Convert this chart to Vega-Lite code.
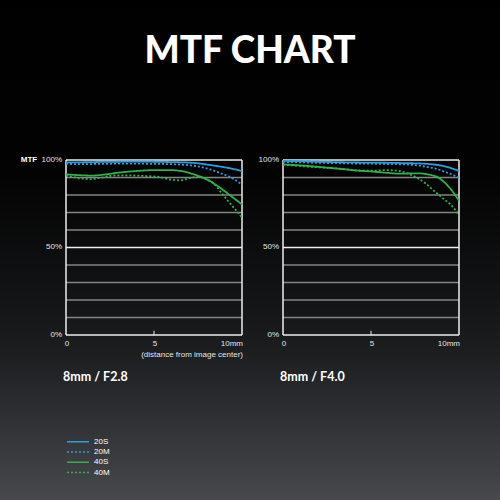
{
  "$schema": "https://vega.github.io/schema/vega-lite/v6.json",
  "width": 500,
  "height": 500,
  "autosize": "none",
  "padding": 0,
  "background": "#000000",
  "config": {
    "font": "Liberation Sans",
    "axis": {"disable": true},
    "view": {
      "stroke": null,
      "fill": {
        "gradient": "linear",
        "x1": 0, "y1": 0, "x2": 0, "y2": 1,
        "stops": [
          {"offset": 0, "color": "#000000"},
          {"offset": 0.35, "color": "#030303"},
          {"offset": 0.6, "color": "#131416"},
          {"offset": 0.7, "color": "#1b1d1f"},
          {"offset": 0.85, "color": "#303235"},
          {"offset": 1, "color": "#47494c"}
        ]
      }
    },
    "text": {"font": "Liberation Sans", "fontSize": 8, "color": "#e6e6e6"},
    "legend": {
      "orient": "none",
      "legendX": 66,
      "legendY": 436.7,
      "title": null,
      "symbolType": "stroke",
      "symbolSize": 484,
      "symbolStrokeWidth": 1.5,
      "labelFontSize": 8,
      "labelColor": "#ffffff",
      "labelOffset": 4,
      "clipHeight": 10,
      "rowPadding": 0.3
    }
  },
  "datasets": {
    "curves": [
      {"lens": "F2.8", "series": "20S", "x": 0, "mtf": 98.6},
      {"lens": "F2.8", "series": "20S", "x": 1, "mtf": 98.7},
      {"lens": "F2.8", "series": "20S", "x": 2, "mtf": 98.9},
      {"lens": "F2.8", "series": "20S", "x": 3, "mtf": 99.0},
      {"lens": "F2.8", "series": "20S", "x": 4, "mtf": 99.1},
      {"lens": "F2.8", "series": "20S", "x": 5, "mtf": 99.0},
      {"lens": "F2.8", "series": "20S", "x": 6, "mtf": 98.8},
      {"lens": "F2.8", "series": "20S", "x": 7, "mtf": 98.5},
      {"lens": "F2.8", "series": "20S", "x": 7.6, "mtf": 98.0},
      {"lens": "F2.8", "series": "20S", "x": 8.2, "mtf": 97.1},
      {"lens": "F2.8", "series": "20S", "x": 8.8, "mtf": 96.2},
      {"lens": "F2.8", "series": "20S", "x": 9.4, "mtf": 95.1},
      {"lens": "F2.8", "series": "20S", "x": 10, "mtf": 93.6},

      {"lens": "F2.8", "series": "20M", "x": 0, "mtf": 97.8},
      {"lens": "F2.8", "series": "20M", "x": 1, "mtf": 97.6},
      {"lens": "F2.8", "series": "20M", "x": 2, "mtf": 97.8},
      {"lens": "F2.8", "series": "20M", "x": 3, "mtf": 97.9},
      {"lens": "F2.8", "series": "20M", "x": 4, "mtf": 97.9},
      {"lens": "F2.8", "series": "20M", "x": 5, "mtf": 97.8},
      {"lens": "F2.8", "series": "20M", "x": 6, "mtf": 97.6},
      {"lens": "F2.8", "series": "20M", "x": 7, "mtf": 97.0},
      {"lens": "F2.8", "series": "20M", "x": 7.6, "mtf": 96.2},
      {"lens": "F2.8", "series": "20M", "x": 8.2, "mtf": 94.6},
      {"lens": "F2.8", "series": "20M", "x": 8.8, "mtf": 92.4},
      {"lens": "F2.8", "series": "20M", "x": 9.2, "mtf": 90.8},
      {"lens": "F2.8", "series": "20M", "x": 9.6, "mtf": 88.7},
      {"lens": "F2.8", "series": "20M", "x": 10, "mtf": 85.9},

      {"lens": "F2.8", "series": "40S", "x": 0, "mtf": 91.8},
      {"lens": "F2.8", "series": "40S", "x": 0.8, "mtf": 91.3},
      {"lens": "F2.8", "series": "40S", "x": 1.5, "mtf": 91.1},
      {"lens": "F2.8", "series": "40S", "x": 2.2, "mtf": 91.7},
      {"lens": "F2.8", "series": "40S", "x": 3, "mtf": 92.8},
      {"lens": "F2.8", "series": "40S", "x": 4, "mtf": 93.7},
      {"lens": "F2.8", "series": "40S", "x": 5, "mtf": 94.2},
      {"lens": "F2.8", "series": "40S", "x": 6, "mtf": 94.2},
      {"lens": "F2.8", "series": "40S", "x": 6.6, "mtf": 93.6},
      {"lens": "F2.8", "series": "40S", "x": 7.2, "mtf": 92.0},
      {"lens": "F2.8", "series": "40S", "x": 7.8, "mtf": 89.8},
      {"lens": "F2.8", "series": "40S", "x": 8.3, "mtf": 87.2},
      {"lens": "F2.8", "series": "40S", "x": 8.8, "mtf": 83.8},
      {"lens": "F2.8", "series": "40S", "x": 9.3, "mtf": 80.0},
      {"lens": "F2.8", "series": "40S", "x": 10, "mtf": 74.6},

      {"lens": "F2.8", "series": "40M", "x": 0, "mtf": 91.2},
      {"lens": "F2.8", "series": "40M", "x": 0.5, "mtf": 90.0},
      {"lens": "F2.8", "series": "40M", "x": 1, "mtf": 89.3},
      {"lens": "F2.8", "series": "40M", "x": 1.4, "mtf": 89.1},
      {"lens": "F2.8", "series": "40M", "x": 2, "mtf": 89.9},
      {"lens": "F2.8", "series": "40M", "x": 2.8, "mtf": 91.2},
      {"lens": "F2.8", "series": "40M", "x": 3.5, "mtf": 91.2},
      {"lens": "F2.8", "series": "40M", "x": 4.4, "mtf": 90.9},
      {"lens": "F2.8", "series": "40M", "x": 5.3, "mtf": 90.3},
      {"lens": "F2.8", "series": "40M", "x": 6, "mtf": 88.7},
      {"lens": "F2.8", "series": "40M", "x": 6.5, "mtf": 88.4},
      {"lens": "F2.8", "series": "40M", "x": 7, "mtf": 89.6},
      {"lens": "F2.8", "series": "40M", "x": 7.5, "mtf": 90.4},
      {"lens": "F2.8", "series": "40M", "x": 8, "mtf": 89.0},
      {"lens": "F2.8", "series": "40M", "x": 8.4, "mtf": 86.5},
      {"lens": "F2.8", "series": "40M", "x": 8.8, "mtf": 81.6},
      {"lens": "F2.8", "series": "40M", "x": 9.3, "mtf": 75.5},
      {"lens": "F2.8", "series": "40M", "x": 10, "mtf": 67.2},

      {"lens": "F4.0", "series": "20S", "x": 0, "mtf": 99.5},
      {"lens": "F4.0", "series": "20S", "x": 1, "mtf": 99.3},
      {"lens": "F4.0", "series": "20S", "x": 2, "mtf": 99.0},
      {"lens": "F4.0", "series": "20S", "x": 3, "mtf": 98.8},
      {"lens": "F4.0", "series": "20S", "x": 4, "mtf": 98.6},
      {"lens": "F4.0", "series": "20S", "x": 5, "mtf": 98.5},
      {"lens": "F4.0", "series": "20S", "x": 6, "mtf": 98.4},
      {"lens": "F4.0", "series": "20S", "x": 7, "mtf": 98.2},
      {"lens": "F4.0", "series": "20S", "x": 7.8, "mtf": 98.0},
      {"lens": "F4.0", "series": "20S", "x": 8.4, "mtf": 97.6},
      {"lens": "F4.0", "series": "20S", "x": 9, "mtf": 96.8},
      {"lens": "F4.0", "series": "20S", "x": 9.5, "mtf": 95.5},
      {"lens": "F4.0", "series": "20S", "x": 10, "mtf": 93.7},

      {"lens": "F4.0", "series": "20M", "x": 0, "mtf": 98.9},
      {"lens": "F4.0", "series": "20M", "x": 1, "mtf": 98.7},
      {"lens": "F4.0", "series": "20M", "x": 2, "mtf": 98.4},
      {"lens": "F4.0", "series": "20M", "x": 3, "mtf": 98.2},
      {"lens": "F4.0", "series": "20M", "x": 4, "mtf": 98.0},
      {"lens": "F4.0", "series": "20M", "x": 5, "mtf": 97.9},
      {"lens": "F4.0", "series": "20M", "x": 6, "mtf": 97.7},
      {"lens": "F4.0", "series": "20M", "x": 7.1, "mtf": 97.4},
      {"lens": "F4.0", "series": "20M", "x": 7.7, "mtf": 96.8},
      {"lens": "F4.0", "series": "20M", "x": 8.2, "mtf": 96.0},
      {"lens": "F4.0", "series": "20M", "x": 8.7, "mtf": 95.0},
      {"lens": "F4.0", "series": "20M", "x": 9.2, "mtf": 93.2},
      {"lens": "F4.0", "series": "20M", "x": 9.6, "mtf": 91.7},
      {"lens": "F4.0", "series": "20M", "x": 10, "mtf": 89.9},

      {"lens": "F4.0", "series": "40S", "x": 0, "mtf": 97.5},
      {"lens": "F4.0", "series": "40S", "x": 0.7, "mtf": 97.1},
      {"lens": "F4.0", "series": "40S", "x": 1.4, "mtf": 96.6},
      {"lens": "F4.0", "series": "40S", "x": 2.4, "mtf": 95.7},
      {"lens": "F4.0", "series": "40S", "x": 3.3, "mtf": 94.9},
      {"lens": "F4.0", "series": "40S", "x": 4.3, "mtf": 93.9},
      {"lens": "F4.0", "series": "40S", "x": 5.2, "mtf": 93.3},
      {"lens": "F4.0", "series": "40S", "x": 6, "mtf": 92.6},
      {"lens": "F4.0", "series": "40S", "x": 6.6, "mtf": 92.2},
      {"lens": "F4.0", "series": "40S", "x": 7.2, "mtf": 92.3},
      {"lens": "F4.0", "series": "40S", "x": 7.7, "mtf": 92.4},
      {"lens": "F4.0", "series": "40S", "x": 8.1, "mtf": 92.0},
      {"lens": "F4.0", "series": "40S", "x": 8.45, "mtf": 91.3},
      {"lens": "F4.0", "series": "40S", "x": 8.75, "mtf": 90.4},
      {"lens": "F4.0", "series": "40S", "x": 9, "mtf": 88.7},
      {"lens": "F4.0", "series": "40S", "x": 9.3, "mtf": 86.0},
      {"lens": "F4.0", "series": "40S", "x": 9.6, "mtf": 82.5},
      {"lens": "F4.0", "series": "40S", "x": 10, "mtf": 76.8},

      {"lens": "F4.0", "series": "40M", "x": 0, "mtf": 97.4},
      {"lens": "F4.0", "series": "40M", "x": 1.4, "mtf": 96.2},
      {"lens": "F4.0", "series": "40M", "x": 2.4, "mtf": 95.6},
      {"lens": "F4.0", "series": "40M", "x": 3.3, "mtf": 95.0},
      {"lens": "F4.0", "series": "40M", "x": 4.3, "mtf": 94.0},
      {"lens": "F4.0", "series": "40M", "x": 5.2, "mtf": 93.9},
      {"lens": "F4.0", "series": "40M", "x": 5.8, "mtf": 94.2},
      {"lens": "F4.0", "series": "40M", "x": 6.5, "mtf": 93.9},
      {"lens": "F4.0", "series": "40M", "x": 7, "mtf": 92.6},
      {"lens": "F4.0", "series": "40M", "x": 7.5, "mtf": 90.4},
      {"lens": "F4.0", "series": "40M", "x": 8.1, "mtf": 86.6},
      {"lens": "F4.0", "series": "40M", "x": 8.6, "mtf": 82.2},
      {"lens": "F4.0", "series": "40M", "x": 9.2, "mtf": 77.2},
      {"lens": "F4.0", "series": "40M", "x": 9.5, "mtf": 74.8},
      {"lens": "F4.0", "series": "40M", "x": 10, "mtf": 68.5}
    ],
    "grid": [
      {"g": 0}, {"g": 10}, {"g": 20}, {"g": 30}, {"g": 40}, {"g": 50},
      {"g": 60}, {"g": 70}, {"g": 80}, {"g": 90}, {"g": 100}
    ],
    "edges": [{"e": 0}, {"e": 10}],
    "ylabels": [{"v": 0, "t": "0%"}, {"v": 50, "t": "50%"}, {"v": 100, "t": "100%"}],
    "xlabels": [{"v": 0, "t": "0"}, {"v": 5, "t": "5"}, {"v": 10, "t": "10mm"}]
  },
  "layer": [
    {
      "layer": [
        {
          "data": {"name": "grid"},
          "mark": {"type": "rule", "strokeWidth": 1.5},
          "encoding": {
            "x": {"datum": 0, "type": "quantitative", "scale": {"domain": [-3.75, 24.659], "nice": false, "zero": false}},
            "x2": {"datum": 10},
            "y": {"field": "g", "type": "quantitative", "scale": {"domain": [-94.29, 191.43], "nice": false, "zero": false}},
            "color": {"condition": {"test": "datum.g % 50 == 0", "value": "#eeeeee"}, "value": "#858585"}
          }
        },
        {
          "data": {"name": "edges"},
          "mark": {"type": "rule", "strokeWidth": 1.5, "color": "#eeeeee"},
          "encoding": {
            "x": {"field": "e", "type": "quantitative"},
            "y": {"datum": 0, "type": "quantitative"},
            "y2": {"datum": 100}
          }
        },
        {
          "data": {"values": [{}]},
          "mark": {"type": "rule", "strokeWidth": 1, "color": "#eeeeee"},
          "encoding": {
            "x": {"datum": 5, "type": "quantitative"},
            "y": {"datum": 0, "type": "quantitative"},
            "y2": {"datum": 2.4}
          }
        },
        {
          "data": {"name": "ylabels"},
          "mark": {"type": "text", "align": "right", "baseline": "middle", "dx": -4},
          "encoding": {
            "x": {"datum": 0, "type": "quantitative"},
            "y": {"field": "v", "type": "quantitative"},
            "text": {"field": "t"}
          }
        },
        {
          "data": {"values": [{"t": "MTF"}]},
          "mark": {"type": "text", "align": "center", "baseline": "middle", "dx": -37, "fontWeight": "bold", "color": "#ffffff"},
          "encoding": {
            "x": {"datum": 0, "type": "quantitative"},
            "y": {"datum": 100, "type": "quantitative"},
            "text": {"field": "t"}
          }
        },
        {
          "data": {"name": "xlabels"},
          "transform": [{"filter": "datum.v < 10"}],
          "mark": {"type": "text", "align": "center", "baseline": "top", "dy": 5.5, "dx": 1},
          "encoding": {
            "x": {"field": "v", "type": "quantitative"},
            "y": {"datum": 0, "type": "quantitative"},
            "text": {"field": "t"}
          }
        },
        {
          "data": {"name": "xlabels"},
          "transform": [{"filter": "datum.v == 10"}],
          "mark": {"type": "text", "align": "right", "baseline": "top", "dy": 5.5, "dx": 1},
          "encoding": {
            "x": {"field": "v", "type": "quantitative"},
            "y": {"datum": 0, "type": "quantitative"},
            "text": {"field": "t"}
          }
        },
        {
          "data": {"values": [{"t": "(distance from image center)"}]},
          "mark": {"type": "text", "align": "right", "baseline": "top", "dy": 16, "dx": 1},
          "encoding": {
            "x": {"datum": 10, "type": "quantitative"},
            "y": {"datum": 0, "type": "quantitative"},
            "text": {"field": "t"}
          }
        },
        {
          "data": {"name": "curves"},
          "transform": [{"filter": "datum.lens == 'F2.8'"}],
          "mark": {"type": "line", "interpolate": "monotone", "strokeWidth": 1.8},
          "encoding": {
            "x": {"field": "x", "type": "quantitative"},
            "y": {"field": "mtf", "type": "quantitative"},
            "color": {"field": "series", "type": "nominal",
              "scale": {"domain": ["20S", "20M", "40S", "40M"], "range": ["#2a9fe0", "#2a9fe0", "#2db34c", "#2db34c"]},
              "legend": {"encode": {"symbols": {"update": {
                "stroke": {"signal": "indexof(['20S','20M'], datum.value) >= 0 ? '#6cc0e0' : '#7fc245'"},
                "strokeDash": {"signal": "indexof(['20M','40M'], datum.value) >= 0 ? [4, 4] : [1, 0]"}}}}}},
            "strokeDash": {"field": "series", "type": "nominal",
              "scale": {"domain": ["20S", "20M", "40S", "40M"], "range": [[1, 0], [2, 2], [1, 0], [2, 2]]},
              "legend": {"encode": {"symbols": {"update": {
                "stroke": {"signal": "indexof(['20S','20M'], datum.value) >= 0 ? '#6cc0e0' : '#7fc245'"},
                "strokeDash": {"signal": "indexof(['20M','40M'], datum.value) >= 0 ? [4, 4] : [1, 0]"}}}}}},
            "order": {"field": "x", "type": "quantitative"}
          }
        },
        {
          "data": {"values": [{"label": "8mm / F2.8"}]},
          "mark": {"type": "text", "font": "Lato", "fontSize": 12.5, "fontWeight": "bold", "color": "#ffffff", "align": "left", "baseline": "alphabetic", "dx": -3},
          "encoding": {
            "x": {"datum": 0, "type": "quantitative"},
            "y": {"datum": -26.3, "type": "quantitative"},
            "text": {"field": "label"}
          }
        },
        {
          "data": {"values": [{"label": "MTF CHART"}]},
          "mark": {"type": "text", "font": "Lato", "fontSize": 37, "fontWeight": 900, "color": "#ffffff", "align": "center", "baseline": "alphabetic"},
          "encoding": {
            "x": {"datum": 10.4545, "type": "quantitative"},
            "y": {"datum": 155.4, "type": "quantitative"},
            "text": {"field": "label"}
          }
        }
      ]
    },
    {
      "layer": [
        {
          "data": {"name": "grid"},
          "mark": {"type": "rule", "strokeWidth": 1.5},
          "encoding": {
            "x": {"datum": 0, "type": "quantitative", "scale": {"domain": [-16.0795, 12.3295], "nice": false, "zero": false}},
            "x2": {"datum": 10},
            "y": {"field": "g", "type": "quantitative", "scale": {"domain": [-94.29, 191.43], "nice": false, "zero": false}},
            "color": {"condition": {"test": "datum.g % 50 == 0", "value": "#eeeeee"}, "value": "#858585"}
          }
        },
        {
          "data": {"name": "edges"},
          "mark": {"type": "rule", "strokeWidth": 1.5, "color": "#eeeeee"},
          "encoding": {
            "x": {"field": "e", "type": "quantitative"},
            "y": {"datum": 0, "type": "quantitative"},
            "y2": {"datum": 100}
          }
        },
        {
          "data": {"values": [{}]},
          "mark": {"type": "rule", "strokeWidth": 1, "color": "#eeeeee"},
          "encoding": {
            "x": {"datum": 5, "type": "quantitative"},
            "y": {"datum": 0, "type": "quantitative"},
            "y2": {"datum": 2.4}
          }
        },
        {
          "data": {"name": "ylabels"},
          "mark": {"type": "text", "align": "right", "baseline": "middle", "dx": -4},
          "encoding": {
            "x": {"datum": 0, "type": "quantitative"},
            "y": {"field": "v", "type": "quantitative"},
            "text": {"field": "t"}
          }
        },
        {
          "data": {"name": "xlabels"},
          "transform": [{"filter": "datum.v < 10"}],
          "mark": {"type": "text", "align": "center", "baseline": "top", "dy": 5.5, "dx": 1},
          "encoding": {
            "x": {"field": "v", "type": "quantitative"},
            "y": {"datum": 0, "type": "quantitative"},
            "text": {"field": "t"}
          }
        },
        {
          "data": {"name": "xlabels"},
          "transform": [{"filter": "datum.v == 10"}],
          "mark": {"type": "text", "align": "right", "baseline": "top", "dy": 5.5, "dx": 1},
          "encoding": {
            "x": {"field": "v", "type": "quantitative"},
            "y": {"datum": 0, "type": "quantitative"},
            "text": {"field": "t"}
          }
        },
        {
          "data": {"name": "curves"},
          "transform": [{"filter": "datum.lens == 'F4.0'"}],
          "mark": {"type": "line", "interpolate": "monotone", "strokeWidth": 1.8},
          "encoding": {
            "x": {"field": "x", "type": "quantitative"},
            "y": {"field": "mtf", "type": "quantitative"},
            "color": {"field": "series", "type": "nominal",
              "scale": {"domain": ["20S", "20M", "40S", "40M"], "range": ["#2a9fe0", "#2a9fe0", "#2db34c", "#2db34c"]},
              "legend": {"encode": {"symbols": {"update": {
                "stroke": {"signal": "indexof(['20S','20M'], datum.value) >= 0 ? '#6cc0e0' : '#7fc245'"},
                "strokeDash": {"signal": "indexof(['20M','40M'], datum.value) >= 0 ? [4, 4] : [1, 0]"}}}}}},
            "strokeDash": {"field": "series", "type": "nominal",
              "scale": {"domain": ["20S", "20M", "40S", "40M"], "range": [[1, 0], [2, 2], [1, 0], [2, 2]]},
              "legend": {"encode": {"symbols": {"update": {
                "stroke": {"signal": "indexof(['20S','20M'], datum.value) >= 0 ? '#6cc0e0' : '#7fc245'"},
                "strokeDash": {"signal": "indexof(['20M','40M'], datum.value) >= 0 ? [4, 4] : [1, 0]"}}}}}},
            "order": {"field": "x", "type": "quantitative"}
          }
        },
        {
          "data": {"values": [{"label": "8mm / F4.0"}]},
          "mark": {"type": "text", "font": "Lato", "fontSize": 12.5, "fontWeight": "bold", "color": "#ffffff", "align": "left", "baseline": "alphabetic", "dx": -3},
          "encoding": {
            "x": {"datum": 0, "type": "quantitative"},
            "y": {"datum": -26.3, "type": "quantitative"},
            "text": {"field": "label"}
          }
        }
      ]
    }
  ],
  "resolve": {
    "scale": {"x": "independent", "y": "independent"},
    "axis": {"x": "independent", "y": "independent"}
  }
}
